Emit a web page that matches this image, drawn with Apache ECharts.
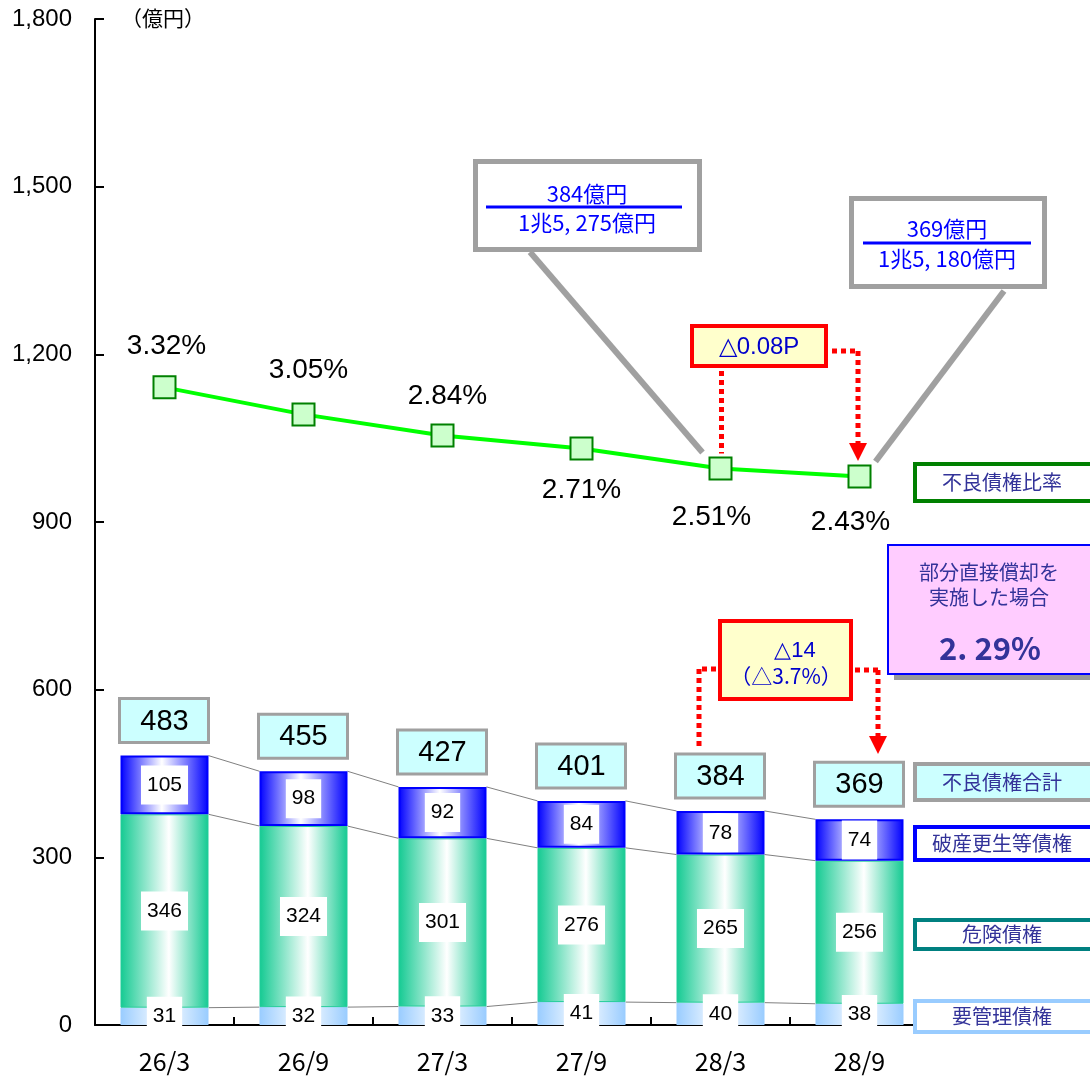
<!DOCTYPE html>
<html><head><meta charset="utf-8">
<script src="https://cdn.jsdelivr.net/npm/echarts@6/dist/echarts.min.js"></script>
<style>html,body{margin:0;padding:0;background:#fff}#c{width:1090px;height:1080px}</style>
</head><body><div id="c"></div>
<script>
const categories = ['26/3','26/9','27/3','27/9','28/3','28/9'];
const youKanri = [31,32,33,41,40,38];        // 要管理債権
const kiken = [346,324,301,276,265,256];     // 危険債権
const hasan = [105,98,92,84,78,74];          // 破産更生等債権
const totals = [483,455,427,401,384,369];    // 不良債権合計
const ratio = [3.32,3.05,2.84,2.71,2.51,2.43]; // 不良債権比率 (%)
const ratioLabels = ['3.32%','3.05%','2.84%','2.71%','2.51%','2.43%'];
const ratioLabelSide = ['top','top','top','bottom','bottom','bottom'];
const ratioLabelShift = [2,5,5,0,-9,-9];
const ratioLabelDist = [15,18,13,16,23,20];
const legendNames = ['不良債権比率','不良債権合計','破産更生等債権','危険債権','要管理債権'];
const callout1 = ['384億円','1兆5, 275億円'];
const callout2 = ['369億円','1兆5, 180億円'];
const diffRatio = '△0.08P';
const diffTotal = ['△14','（△3.7%）'];
const partial = ['部分直接償却を','実施した場合','2. 29%'];
const unitLabel = '（億円）';

const JP = '"Noto Sans CJK JP"';
const NUM = '"Liberation Sans"';
const BARW = 88;

function hGrad(edge, mid, pos){
  return new echarts.graphic.LinearGradient(0,0,1,0,[
    {offset:0,color:edge},{offset:pos,color:mid},{offset:1,color:edge}]);
}
const segLabel = {show:true, position:'inside', color:'#000', backgroundColor:'#fff',
  padding:[9,6], fontSize:21, fontFamily:NUM};

const chart = echarts.init(document.getElementById('c'));
const cum1 = youKanri.map((v,i)=>v);
const cum2 = youKanri.map((v,i)=>v+kiken[i]);
const cum3 = youKanri.map((v,i)=>v+kiken[i]+hasan[i]);

chart.setOption({
  animation:false,
  backgroundColor:'#fff',
  grid:{left:95, top:19, width:834, height:1006},
  xAxis:{type:'category', data:categories,
    axisLine:{lineStyle:{color:'#000', width:2}},
    axisTick:{show:true, inside:true, length:8, lineStyle:{color:'#000', width:2}},
    axisLabel:{fontSize:25, fontFamily:JP, color:'#000', margin:24}},
  yAxis:[
    {type:'value', min:0, max:1800, interval:300,
     axisLine:{show:true, lineStyle:{color:'#000', width:2}},
     axisTick:{show:true, inside:true, length:9, lineStyle:{color:'#000', width:2}},
     splitLine:{show:false},
     axisLabel:{fontSize:24, fontFamily:NUM, color:'#000', margin:23,
       formatter:v=>v.toLocaleString('en-US')}},
    {type:'value', min:-3.05, max:7.0, show:false, splitLine:{show:false}}
  ],
  series:[
    {type:'custom', name:'connectors', z:1, silent:true,
     data:categories.map((c,i)=>[i]),
     renderItem:(params, api)=>{
       const i = api.value(0);
       if (i >= categories.length-1) return {type:'group', children:[]};
       const kids = [cum1,cum2,cum3].map(arr=>{
         const a = api.coord([i, arr[i]]), b = api.coord([i+1, arr[i+1]]);
         return {type:'line', shape:{x1:a[0]+BARW/2, y1:a[1], x2:b[0]-BARW/2, y2:b[1]},
           style:{stroke:'#808080', lineWidth:1}};
       });
       return {type:'group', children:kids};
     }},
    {type:'bar', name:'要管理債権', stack:'s', barWidth:BARW, data:youKanri, z:2,
     itemStyle:{color:hGrad('#99CCFF','#FFFFFF',0.5)}, label:segLabel},
    {type:'bar', name:'危険債権', stack:'s', barWidth:BARW, data:kiken, z:2,
     itemStyle:{color:hGrad('#14CA92','#FFFFFF',0.55), borderColor:'#22CC99', borderWidth:1}, label:segLabel},
    {type:'bar', name:'破産更生等債権', stack:'s', barWidth:BARW, data:hasan, z:2,
     itemStyle:{color:hGrad('#0000FF','#FFFFFF',0.47), borderColor:'#0000FF', borderWidth:2}, label:segLabel},
    {type:'custom', name:'不良債権合計', z:5,
     data:totals.map((t,i)=>[i,t,cum3[i]]),
     renderItem:(params, api)=>{
       const p = api.coord([api.value(0), api.value(2)]);
       return {type:'group', children:[
         {type:'rect', shape:{x:p[0]-45, y:p[1]-57, width:89, height:44},
          style:{fill:'#CCFFFF', stroke:'#A0A0A0', lineWidth:3}},
         {type:'text', style:{x:p[0], y:p[1]-34, text:String(api.value(1)),
          font:'29px '+NUM, fill:'#000', align:'center', verticalAlign:'middle'}}
       ]};
     }},
    {type:'line', name:'不良債権比率', yAxisIndex:1, z:10,
     data:ratio.map((v,i)=>({value:v, label:{position:ratioLabelSide[i], distance:ratioLabelDist[i], offset:[ratioLabelShift[i],0]}})),
     symbol:'rect', symbolSize:22,
     lineStyle:{color:'#00FF00', width:4},
     itemStyle:{color:'#CCFFCC', borderColor:'#008000', borderWidth:2},
     label:{show:true, formatter:p=>ratioLabels[p.dataIndex], fontSize:28, fontFamily:NUM, color:'#000'}}
  ]
});

// annotations
const P = i => chart.convertToPixel({xAxisIndex:0, yAxisIndex:1}, [i, ratio[i]]);
const T = i => chart.convertToPixel({xAxisIndex:0, yAxisIndex:0}, [i, cum3[i]]);
const p4 = P(4), p5 = P(5), t4 = T(4), t5 = T(5);
const red = {stroke:'#FF0000', lineWidth:5, lineDash:[5,4], fill:null};
const g = [];
function rect(x,y,w,h,style,z){ g.push({type:'rect', shape:{x,y,width:w,height:h}, style, z:z||50}); }
function text(x,y,t,font,fill,z){ g.push({type:'text', style:{x,y,text:t,font,fill,align:'center',verticalAlign:'middle'}, z:z||51}); }
function line(x1,y1,x2,y2,style,z){ g.push({type:'line', shape:{x1,y1,x2,y2}, style, z:z||49}); }
function tri(x,y){ g.push({type:'polygon', shape:{points:[[x-9,y-18],[x+9,y-18],[x,y]]}, style:{fill:'#FF0000'}, z:49}); }

// unit
g.push({type:'text', style:{x:121, y:18, text:unitLabel, font:'21px '+JP, fill:'#000', verticalAlign:'middle'}});

// callout 1
line(530,252,p4[0]-18,p4[1]-16,{stroke:'#A0A0A0', lineWidth:6});
rect(475.5,161.5,224,88,{fill:'#fff', stroke:'#A0A0A0', lineWidth:5});
text(587,194,callout1[0],'22px '+JP,'#0000FF');
line(486,207,682,207,{stroke:'#0000FF', lineWidth:3},52);
text(587,223,callout1[1],'22px '+JP,'#0000FF');
// callout 2
line(1004,291,p5[0]+16,p5[1]-15,{stroke:'#A0A0A0', lineWidth:6});
rect(851.5,198.5,193,88,{fill:'#fff', stroke:'#A0A0A0', lineWidth:5});
text(947,229,callout2[0],'22px '+JP,'#0000FF');
line(863,243,1031,243,{stroke:'#0000FF', lineWidth:3},52);
text(947,259,callout2[1],'22px '+JP,'#0000FF');

// red box 1
line(p4[0]+1,371,p4[0]+1,p4[1]-15,red);
line(832,351,858,351,red);
line(858,351,858,444,red);
tri(858,461);
rect(692,326,134,40,{fill:'#FFFFCC', stroke:'#FF0000', lineWidth:4});
text(759,347,diffRatio,'24px '+NUM,'#0000CC');

// red box 2
line(716,669,699,669,red);
line(699,669,699,t4[1]-62,red);
line(855,670,878,670,red);
line(878,670,878,737,red);
tri(878,754);
rect(720,621,131,78,{fill:'#FFFFCC', stroke:'#FF0000', lineWidth:4});
text(795,651,diffTotal[0],'22px '+NUM,'#0000CC');
text(786,676,diffTotal[1],'21px '+JP,'#0000CC');

// pink box
rect(894,551,205,129,{fill:'#999999'});
rect(888,545,210,129,{fill:'#FFCCFF', stroke:'#0000FF', lineWidth:2});
text(989,572,partial[0],'20px '+JP,'#333399');
text(989,597,partial[1],'20px '+JP,'#333399');
text(990,648,partial[2],'bold 31px '+JP,'#333399');

// legend boxes
const lg = [
  {y:464,h:37,stroke:'#008000',fill:'#fff'},
  {y:764,h:36,stroke:'#A0A0A0',fill:'#CCFFFF'},
  {y:827,h:33,stroke:'#0000FF',fill:'#fff'},
  {y:920,h:29,stroke:'#008080',fill:'#fff'},
  {y:1001,h:31,stroke:'#99CCFF',fill:'#fff'}
];
lg.forEach((b,i)=>{
  rect(915,b.y,185,b.h,{fill:b.fill, stroke:b.stroke, lineWidth:4});
  text(1002,b.y+b.h/2,legendNames[i],'20px '+JP,'#333399');
});

chart.setOption({graphic:g});
</script></body></html>
